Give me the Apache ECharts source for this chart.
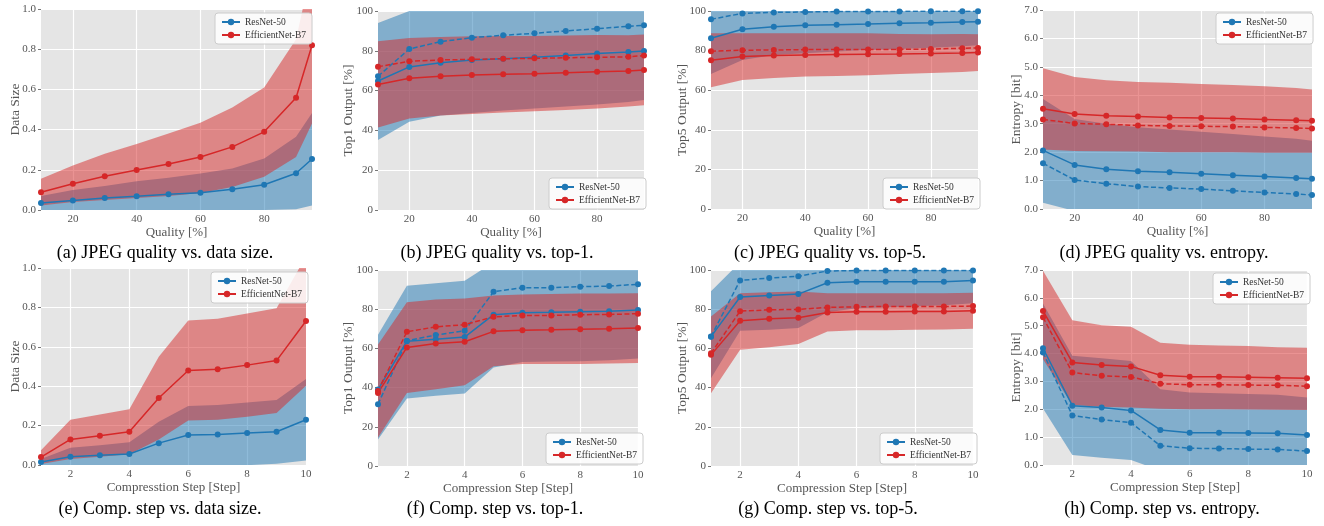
<!DOCTYPE html>
<html>
<head>
<meta charset="utf-8">
<title>JPEG quality / compression step</title>
<script src="https://cdn.jsdelivr.net/npm/echarts@6.0.0/dist/echarts.min.js"></script>
<style>
  html, body { margin: 0; padding: 0; background: #fff; }
  #chart { width: 1324px; height: 526px; }
</style>
</head>
<body>
<div id="chart"></div>
<script>
// x values
const qualitySteps = [10, 20, 30, 40, 50, 60, 70, 80, 90, 95];
const compSteps = [1, 2, 3, 4, 5, 6, 7, 8, 9, 10];
const qualityTicks = [20, 40, 60, 80];
const compTicks = [2, 4, 6, 8, 10];

// (a) JPEG quality vs. data size
const qSizeResMean = [0.035, 0.047, 0.06, 0.068, 0.078, 0.086, 0.103, 0.126, 0.183, 0.254];
const qSizeResLow = [-0.002, -0.006, -0.004, -0.007, -0.004, -0.009, -0.002, 0.0, 0.004, 0.022];
const qSizeResHigh = [0.07, 0.10, 0.12, 0.143, 0.16, 0.181, 0.206, 0.256, 0.364, 0.483];
const qSizeEffMean = [0.088, 0.131, 0.168, 0.199, 0.229, 0.264, 0.314, 0.389, 0.558, 0.82];
const qSizeEffLow = [0.022, 0.04, 0.05, 0.06, 0.07, 0.085, 0.115, 0.165, 0.264, 0.43];
const qSizeEffHigh = [0.156, 0.222, 0.28, 0.328, 0.38, 0.434, 0.51, 0.61, 0.85, 1.21];

// (b) JPEG quality vs. top-1
const qTop1ResMean = [64.8, 71.9, 74, 75.4, 76, 76.7, 77.6, 78.6, 79.4, 79.9];
const qTop1ResMedian = [67.2, 80.9, 84.6, 86.6, 87.8, 88.8, 90, 91.1, 92.3, 92.8];
const qTop1ResLow = [35.2, 44.4, 47.5, 48.8, 50, 51, 52, 53, 54.3, 55.3];
const qTop1ResHigh = [94, 100, 101, 102, 102, 102.5, 103, 104, 104.5, 104.5];
const qTop1EffMean = [63.1, 66.2, 67.2, 67.8, 68.2, 68.5, 69, 69.5, 69.8, 70.4];
const qTop1EffMedian = [72, 74.7, 75.4, 75.7, 76, 76.2, 76.5, 76.7, 77, 77.6];
const qTop1EffLow = [41.4, 46, 47.5, 48.3, 49, 49.6, 50.3, 51, 52, 52.6];
const qTop1EffHigh = [84.8, 86.4, 86.9, 87.3, 87.4, 87.4, 87.7, 88, 87.8, 88.2];

// (c) JPEG quality vs. top-5
const qTop5ResMean = [86.2, 90.8, 92.1, 92.8, 93.1, 93.4, 93.8, 94.1, 94.5, 94.6];
const qTop5ResMedian = [95.8, 98.8, 99.3, 99.5, 99.7, 99.8, 99.8, 99.9, 99.9, 99.9];
const qTop5ResLow = [68.2, 75.3, 77.8, 78.7, 79.5, 80.3, 80.8, 81.5, 82.2, 82.7];
const qTop5ResHigh = [104.2, 106.3, 106.4, 106.9, 106.7, 106.5, 106.8, 106.7, 106.8, 106.5];
const qTop5EffMean = [75.1, 77, 77.5, 77.8, 78, 78.2, 78.3, 78.5, 78.8, 79];
const qTop5EffMedian = [79.7, 80.2, 80.3, 80.5, 80.5, 80.5, 80.6, 80.8, 81.2, 81.3];
const qTop5EffLow = [61.5, 65.2, 66.2, 66.9, 67.2, 67.6, 68.2, 68.7, 69.2, 69.7];
const qTop5EffHigh = [88.7, 88.8, 88.8, 88.7, 88.8, 88.8, 88.4, 88.3, 88.4, 88.3];

// (d) JPEG quality vs. entropy
const qEntResMean = [2.06, 1.55, 1.4, 1.33, 1.29, 1.24, 1.19, 1.14, 1.09, 1.06];
const qEntResMedian = [1.61, 1.02, 0.89, 0.79, 0.74, 0.70, 0.64, 0.58, 0.53, 0.49];
const qEntResLow = [0.22, -0.07, -0.2, -0.22, -0.22, -0.24, -0.26, -0.27, -0.29, -0.28];
const qEntResHigh = [3.87, 3.17, 3.0, 2.88, 2.8, 2.72, 2.64, 2.55, 2.47, 2.4];
const qEntEffMean = [3.53, 3.34, 3.28, 3.25, 3.22, 3.2, 3.18, 3.15, 3.12, 3.1];
const qEntEffMedian = [3.15, 3.01, 2.98, 2.94, 2.92, 2.91, 2.9, 2.87, 2.85, 2.83];
const qEntEffLow = [2.09, 2.04, 2.03, 2.02, 2.0, 2.0, 2.0, 1.98, 1.98, 1.98];
const qEntEffHigh = [4.95, 4.64, 4.53, 4.47, 4.44, 4.4, 4.36, 4.32, 4.26, 4.2];

// (e) Comp. step vs. data size
const cSizeResMean = [0.015, 0.042, 0.049, 0.056, 0.111, 0.152, 0.155, 0.162, 0.169, 0.23];
const cSizeResLow = [0.0, -0.004, -0.002, -0.003, -0.002, -0.001, -0.001, -0.001, 0.006, 0.023];
const cSizeResHigh = [0.03, 0.088, 0.1, 0.115, 0.22, 0.3, 0.305, 0.317, 0.33, 0.437];
const cSizeEffMean = [0.04, 0.13, 0.149, 0.169, 0.34, 0.48, 0.486, 0.507, 0.53, 0.731];
const cSizeEffLow = [0.005, 0.03, 0.042, 0.055, 0.13, 0.226, 0.23, 0.245, 0.264, 0.402];
const cSizeEffHigh = [0.075, 0.23, 0.256, 0.283, 0.55, 0.734, 0.742, 0.769, 0.796, 1.06];

// (f) Comp. step vs. top-1
const cTop1ResMean = [39, 63.7, 64.7, 65.8, 77.2, 78.2, 78.4, 78.7, 78.9, 79.6];
const cTop1ResMedian = [31.5, 63.9, 66.8, 69, 88.9, 91, 91, 91.5, 91.8, 92.7];
const cTop1ResLow = [13.5, 34.4, 35.8, 37, 50.3, 53, 53.3, 53.5, 54, 54.9];
const cTop1ResHigh = [67, 92, 93.3, 94.5, 104, 103.5, 103.5, 104, 104, 104.3];
const cTop1EffMean = [37.3, 60.5, 62.5, 63.4, 68.7, 69.3, 69.5, 69.8, 70, 70.4];
const cTop1EffMedian = [38.3, 68.5, 71, 72.1, 76.1, 76.8, 76.8, 77.2, 77.3, 77.7];
const cTop1EffLow = [14.5, 37.3, 39.2, 41.2, 50.9, 52, 52, 52.1, 52.3, 52.6];
const cTop1EffHigh = [62, 83.6, 85, 85.5, 87, 87.5, 87.8, 88, 88, 88.1];

// (g) Comp. step vs. top-5
const cTop5ResMean = [66, 86.2, 87, 87.7, 93.5, 94, 94, 94, 94, 94.7];
const cTop5ResMedian = [66.1, 94.7, 95.9, 96.8, 99.5, 99.7, 99.7, 99.7, 99.7, 99.7];
const cTop5ResLow = [44.8, 69, 69.5, 70.4, 78.5, 80.5, 81, 81.5, 82, 83];
const cTop5ResHigh = [89.1, 104, 104.5, 105, 108.5, 107.5, 107, 106.5, 106, 106.4];
const cTop5EffMean = [56.7, 74.1, 75.1, 75.6, 78.3, 78.7, 78.7, 78.8, 78.8, 79.2];
const cTop5EffMedian = [57.5, 79, 79.7, 79.9, 80.9, 81.2, 81.4, 81.4, 81.4, 81.6];
const cTop5EffLow = [37.1, 59.3, 60.6, 62.2, 68.6, 69.3, 69.3, 69.5, 69.7, 70];
const cTop5EffHigh = [76.3, 88.2, 88.7, 89, 88.2, 88.2, 88.2, 88.2, 88.2, 88.4];

// (h) Comp. step vs. entropy
const cEntResMean = [4.19, 2.13, 2.06, 1.96, 1.26, 1.16, 1.16, 1.15, 1.14, 1.08];
const cEntResMedian = [4.04, 1.78, 1.63, 1.52, 0.69, 0.6, 0.59, 0.57, 0.56, 0.5];
const cEntResLow = [2.03, 0.36, 0.26, 0.18, -0.2, -0.28, -0.26, -0.25, -0.24, -0.26];
const cEntResHigh = [5.8, 3.92, 3.83, 3.73, 2.72, 2.6, 2.58, 2.55, 2.52, 2.42];
const cEntEffMean = [5.53, 3.68, 3.59, 3.54, 3.22, 3.17, 3.17, 3.15, 3.13, 3.11];
const cEntEffMedian = [5.3, 3.32, 3.2, 3.16, 2.92, 2.88, 2.88, 2.87, 2.86, 2.83];
const cEntEffLow = [3.8, 2.15, 2.09, 2.06, 2.02, 2.0, 2.0, 1.99, 1.98, 1.97];
const cEntEffHigh = [6.97, 5.2, 5.02, 4.96, 4.39, 4.32, 4.29, 4.27, 4.23, 4.21];

const SERIF = "'Liberation Serif', 'Times New Roman', serif";
const BLUE = '#1f77b4';
const RED = '#d62728';
const RES = 'ResNet-50';
const EFF = 'EfficientNet-B7';

// one entry per sub figure
const panels = [
  { caption: '(a) JPEG quality vs. data size.', xName: 'Quality [%]', yName: 'Data Size',
    xs: qualitySteps, ticks: qualityTicks, yMax: 1, yStep: 0.2, digits: 1,
    res: [qSizeResMean, null, qSizeResLow, qSizeResHigh], eff: [qSizeEffMean, null, qSizeEffLow, qSizeEffHigh],
    box: [41, 9, 271, 201], legend: [215, 13], cap: [165, 244], yGap: 19 },
  { caption: '(b) JPEG quality vs. top-1.', xName: 'Quality [%]', yName: 'Top1 Output [%]',
    xs: qualitySteps, ticks: qualityTicks, yMax: 100, yStep: 20, digits: 0,
    res: [qTop1ResMean, qTop1ResMedian, qTop1ResLow, qTop1ResHigh], eff: [qTop1EffMean, qTop1EffMedian, qTop1EffLow, qTop1EffHigh],
    box: [378, 11, 266, 199], legend: [549, 178], cap: [497, 244], yGap: 23 },
  { caption: '(c) JPEG quality vs. top-5.', xName: 'Quality [%]', yName: 'Top5 Output [%]',
    xs: qualitySteps, ticks: qualityTicks, yMax: 100, yStep: 20, digits: 0,
    res: [qTop5ResMean, qTop5ResMedian, qTop5ResLow, qTop5ResHigh], eff: [qTop5EffMean, qTop5EffMedian, qTop5EffLow, qTop5EffHigh],
    box: [711, 11, 267, 198], legend: [883, 178], cap: [830, 244], yGap: 21.5 },
  { caption: '(d) JPEG quality vs. entropy.', xName: 'Quality [%]', yName: 'Entropy [bit]',
    xs: qualitySteps, ticks: qualityTicks, yMax: 7, yStep: 1, digits: 1,
    res: [qEntResMean, qEntResMedian, qEntResLow, qEntResHigh], eff: [qEntEffMean, qEntEffMedian, qEntEffLow, qEntEffHigh],
    box: [1043, 10, 269, 199], legend: [1216, 13], cap: [1164, 244], yGap: 19.5 },
  { caption: '(e) Comp. step vs. data size.', xName: 'Compresstion Step [Step]', yName: 'Data Size',
    xs: compSteps, ticks: compTicks, yMax: 1, yStep: 0.2, digits: 1,
    res: [cSizeResMean, null, cSizeResLow, cSizeResHigh], eff: [cSizeEffMean, null, cSizeEffLow, cSizeEffHigh],
    box: [41, 268, 265, 197], legend: [211, 272], cap: [160, 500], yGap: 19 },
  { caption: '(f) Comp. step vs. top-1.', xName: 'Compression Step [Step]', yName: 'Top1 Output [%]',
    xs: compSteps, ticks: compTicks, yMax: 100, yStep: 20, digits: 0,
    res: [cTop1ResMean, cTop1ResMedian, cTop1ResLow, cTop1ResHigh], eff: [cTop1EffMean, cTop1EffMedian, cTop1EffLow, cTop1EffHigh],
    box: [378, 270, 260, 196], legend: [546, 433], cap: [495, 500], yGap: 23 },
  { caption: '(g) Comp. step vs. top-5.', xName: 'Compression Step [Step]', yName: 'Top5 Output [%]',
    xs: compSteps, ticks: compTicks, yMax: 100, yStep: 20, digits: 0,
    res: [cTop5ResMean, cTop5ResMedian, cTop5ResLow, cTop5ResHigh], eff: [cTop5EffMean, cTop5EffMedian, cTop5EffLow, cTop5EffHigh],
    box: [711, 270, 262, 196], legend: [880, 433], cap: [828, 500], yGap: 21.5 },
  { caption: '(h) Comp. step vs. entropy.', xName: 'Compression Step [Step]', yName: 'Entropy [bit]',
    xs: compSteps, ticks: compTicks, yMax: 7, yStep: 1, digits: 1,
    res: [cEntResMean, cEntResMedian, cEntResLow, cEntResHigh], eff: [cEntEffMean, cEntEffMedian, cEntEffLow, cEntEffHigh],
    box: [1043, 270, 264, 195], legend: [1213, 273], cap: [1162, 500], yGap: 19.5 }
];

// shaded band between low and high: one polygon built through the axis scales
function bandSeries(i, xs, low, high, color) {
  return {
    type: 'custom', xAxisIndex: i, yAxisIndex: i, silent: true, clip: true, z: 1,
    data: xs.map((x, k) => [x, low[k], high[k]]),
    encode: { x: 0, y: [1, 2] },
    renderItem: (params, api) => {
      if (params.dataIndex !== 0) return;
      const n = xs.length;
      const top = [], bottom = [];
      for (let k = 0; k < n; k++) {
        top.push(api.coord([api.value(0, k), api.value(2, k)]));
        bottom.push(api.coord([api.value(0, k), api.value(1, k)]));
      }
      const cs = params.coordSys;
      return {
        type: 'polygon',
        shape: { points: top.concat(bottom.reverse()) },
        style: { fill: color, opacity: 0.5 },
        clipPath: { type: 'rect', shape: { x: cs.x, y: cs.y, width: cs.width, height: cs.height } }
      };
    }
  };
}

function lineSeries(i, xs, ys, color, name, dashed) {
  return {
    type: 'line', name: name, xAxisIndex: i, yAxisIndex: i,
    data: xs.map((x, k) => [x, ys[k]]),
    symbol: 'circle', symbolSize: 6, showSymbol: true,
    lineStyle: { color: color, width: 1.5, type: dashed ? [5, 2.5] : 'solid' },
    itemStyle: { color: color }, emphasis: { disabled: true }, z: 3
  };
}

const grids = [], xAxes = [], yAxes = [], series = [], legends = [], titles = [];

panels.forEach((p, i) => {
  grids.push({
    left: p.box[0], top: p.box[1], width: p.box[2], height: p.box[3],
    show: true, backgroundColor: '#e5e5e5', borderWidth: 0
  });
  xAxes.push({
    type: 'value', gridIndex: i, min: p.xs[0], max: p.xs[p.xs.length - 1],
    name: p.xName, nameLocation: 'middle', nameGap: 16, nameMoveOverlap: false,
    nameTextStyle: { fontFamily: SERIF, fontSize: 13, color: '#555' },
    axisLine: { show: false },
    axisTick: { show: false, customValues: p.ticks },
    axisLabel: { customValues: p.ticks, fontFamily: SERIF, fontSize: 11, color: '#555', margin: 4 },
    splitLine: { lineStyle: { color: '#fff', width: 1.2 } }
  });
  yAxes.push({
    type: 'value', gridIndex: i, min: 0, max: p.yMax, interval: p.yStep,
    name: p.yName, nameLocation: 'middle', nameGap: p.yGap, nameMoveOverlap: false,
    nameTextStyle: { fontFamily: SERIF, fontSize: 13.5, color: '#555' },
    axisLine: { show: false },
    axisTick: { show: true, length: 3, lineStyle: { color: '#555', width: 0.8 } },
    axisLabel: {
      fontFamily: SERIF, fontSize: 11, color: '#555', margin: 5,
      formatter: (v) => v.toFixed(p.digits)
    },
    splitLine: { lineStyle: { color: '#fff', width: 1.2 } }
  });

  series.push(bandSeries(i, p.xs, p.res[2], p.res[3], BLUE));
  series.push(bandSeries(i, p.xs, p.eff[2], p.eff[3], RED));
  series.push(lineSeries(i, p.xs, p.res[0], BLUE, RES, false));
  if (p.res[1]) series.push(lineSeries(i, p.xs, p.res[1], BLUE, RES + ' median', true));
  series.push(lineSeries(i, p.xs, p.eff[0], RED, EFF, false));
  if (p.eff[1]) series.push(lineSeries(i, p.xs, p.eff[1], RED, EFF + ' median', true));

  legends.push({
    data: [RES, EFF], orient: 'vertical', left: p.legend[0], top: p.legend[1],
    itemWidth: 18, itemHeight: 8, itemGap: 3, padding: [4, 6],
    backgroundColor: 'rgba(255,255,255,0.85)', borderColor: '#cccccc', borderWidth: 1, borderRadius: 3,
    textStyle: { fontFamily: SERIF, fontSize: 9.5, color: '#333' },
    selectedMode: false
  });

  titles.push({
    text: p.caption, left: p.cap[0], top: p.cap[1], padding: 0,
    textAlign: 'center', textVerticalAlign: 'top',
    textStyle: { fontFamily: SERIF, fontSize: 18, fontWeight: 'normal', color: '#000' }
  });
});

const chart = echarts.init(document.getElementById('chart'));
chart.setOption({
  animation: false,
  backgroundColor: '#fff',
  title: titles,
  grid: grids,
  xAxis: xAxes,
  yAxis: yAxes,
  legend: legends,
  series: series
});
window.addEventListener('resize', () => chart.resize());
</script>
</body>
</html>
